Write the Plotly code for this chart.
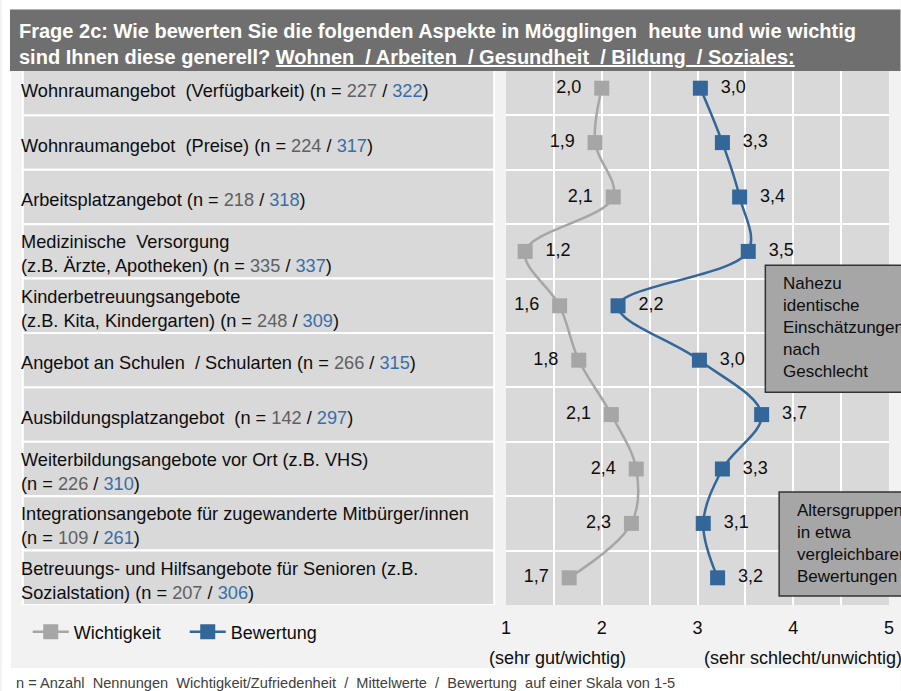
import plotly.graph_objects as go

# ---------------- data ----------------
categories = [
    "Wohnraumangebot (Verfügbarkeit)",
    "Wohnraumangebot (Preise)",
    "Arbeitsplatzangebot",
    "Medizinische Versorgung",
    "Kinderbetreuungsangebote",
    "Angebot an Schulen / Schularten",
    "Ausbildungsplatzangebot",
    "Weiterbildungsangebote vor Ort",
    "Integrationsangebote",
    "Betreuungs- und Hilfsangebote für Senioren",
]
label_main = [
    "Wohnraumangebot  (Verfügbarkeit)",
    "Wohnraumangebot  (Preise)",
    "Arbeitsplatzangebot",
    "Medizinische  Versorgung<br>(z.B. Ärzte, Apotheken)",
    "Kinderbetreuungsangebote<br>(z.B. Kita, Kindergarten)",
    "Angebot an Schulen  / Schularten",
    "Ausbildungsplatzangebot ",
    "Weiterbildungsangebote vor Ort (z.B. VHS)<br>",
    "Integrationsangebote für zugewanderte Mitbürger/innen<br>",
    "Betreuungs- und Hilfsangebote für Senioren (z.B.<br>Sozialstation)",
]
n_wichtigkeit = [227, 224, 218, 335, 248, 266, 142, 226, 109, 207]
n_bewertung = [322, 317, 318, 337, 309, 315, 297, 310, 261, 306]
wichtigkeit = [2.00, 1.93, 2.12, 1.20, 1.56, 1.76, 2.10, 2.36, 2.31, 1.66]
bewertung = [3.03, 3.26, 3.44, 3.53, 2.17, 3.02, 3.67, 3.26, 3.06, 3.21]
wichtigkeit_textpos = ["middle left", "middle left", "middle left", "middle right", "middle left",
                       "middle left", "middle left", "middle left", "middle left", "middle left"]
x_ticks = [1, 2, 3, 4, 5]
x_tick_labels = ["1", "2", "3", "4", "5"]
series_names = ["Wichtigkeit", "Bewertung"]

title_line1 = "Frage 2c: Wie bewerten Sie die folgenden Aspekte in Mögglingen  heute und wie wichtig"
title_line2a = "sind Ihnen diese generell? "
title_line2b = "Wohnen  / Arbeiten  / Gesundheit  / Bildung  / Soziales:"
box1_text = "Nahezu<br>identische<br>Einschätzungen<br>nach<br>Geschlecht"
box2_text = "Altersgruppen<br>in etwa<br>vergleichbaren<br>Bewertungen"
axis_left_text = "(sehr gut/wichtig)"
axis_right_text = "(sehr schlecht/unwichtig)"
footnote = "n = Anzahl  Nennungen  Wichtigkeit/Zufriedenheit  /  Mittelwerte  /  Bewertung  auf einer Skala von 1-5"

# ---------------- styling ----------------
GRAY = "#a6a6a6"
BLUE = "#336699"
N_GRAY = "#606060"
N_BLUE = "#3a6ea8"
TXT = "#0d0d0d"
FONT = "Liberation Sans, Arial, sans-serif"
NB = "\u00a0"

W, H = 901, 691
PL, PR, PT, PB = 506, 894.4, 60.5, 605  # plot area in px


def X(px):
    return (px - PL) / (PR - PL)


def Y(py):
    return (PB - py) / (PB - PT)


def keep_spaces(s):
    return s.replace("  ", NB + " ")


labels = []
for main, nw, nb in zip(label_main, n_wichtigkeit, n_bewertung):
    sep = "" if main.endswith("<br>") else " "
    labels.append(
        keep_spaces(main) + sep + "(n = "
        + f"<span style='color:{N_GRAY}'>{nw}</span> / "
        + f"<span style='color:{N_BLUE}'>{nb}</span>)"
    )

fig = go.Figure()

# lines + markers
fig.add_trace(go.Scatter(
    x=wichtigkeit, y=categories, mode="lines+markers", name=series_names[0],
    line=dict(color=GRAY, width=2.5, shape="spline", smoothing=1),
    marker=dict(symbol="square", size=15, color=GRAY),
    cliponaxis=False, hoverinfo="skip",
))
fig.add_trace(go.Scatter(
    x=bewertung, y=categories, mode="lines+markers", name=series_names[1],
    line=dict(color=BLUE, width=2.5, shape="spline", smoothing=1),
    marker=dict(symbol="square", size=15, color=BLUE),
    cliponaxis=False, hoverinfo="skip",
))

# value labels
def tmpl(pos):
    return ("%{x:.1f}" + NB + NB) if "left" in pos else (NB + NB + "%{x:.1f}")

fig.add_trace(go.Scatter(
    x=wichtigkeit, y=categories, mode="markers+text", showlegend=False,
    marker=dict(symbol="square", size=15, color="rgba(0,0,0,0)"),
    texttemplate=[tmpl(p) for p in wichtigkeit_textpos], textposition=wichtigkeit_textpos,
    textfont=dict(size=18, color=TXT, family=FONT), cliponaxis=False, hoverinfo="skip",
))
fig.add_trace(go.Scatter(
    x=bewertung, y=categories, mode="markers+text", showlegend=False,
    marker=dict(symbol="square", size=15, color="rgba(0,0,0,0)"),
    texttemplate=[tmpl("middle right")] * len(bewertung), textposition="middle right",
    textfont=dict(size=18, color=TXT, family=FONT), cliponaxis=False, hoverinfo="skip",
))

shapes = []
# white regions outside the grey panel
shapes.append(dict(type="rect", xref="paper", yref="paper", x0=X(-5), x1=X(W + 5), y0=Y(9), y1=Y(-5),
                   fillcolor="white", line=dict(width=0), layer="below"))
shapes.append(dict(type="rect", xref="paper", yref="paper", x0=X(-5), x1=X(4), y0=Y(H + 5), y1=Y(-5),
                   fillcolor="white", line=dict(width=0), layer="below"))
shapes.append(dict(type="rect", xref="paper", yref="paper", x0=X(-5), x1=X(W + 5), y0=Y(H + 5), y1=Y(668),
                   fillcolor="white", line=dict(width=0), layer="below"))
# label bands
for i in range(len(categories)):
    shapes.append(dict(type="rect", xref="paper", yref="y", x0=X(16), x1=X(494),
                       y0=i - 0.5, y1=i + 0.5, fillcolor="#d9d9d9",
                       line=dict(color="white", width=2), layer="below"))
# title bar
shapes.append(dict(type="rect", xref="paper", yref="paper", x0=X(3), x1=X(W + 5), y0=Y(70.5), y1=Y(9),
                   fillcolor="#6f6f6f", line=dict(width=0), layer="above"))
# comment boxes
shapes.append(dict(type="rect", xref="paper", yref="paper", x0=X(769), x1=X(W + 20), y0=Y(392), y1=Y(265),
                   fillcolor=GRAY, line=dict(color="#333333", width=1.5), layer="above"))
shapes.append(dict(type="rect", xref="paper", yref="paper", x0=X(783), x1=X(W + 20), y0=Y(596), y1=Y(492),
                   fillcolor=GRAY, line=dict(color="#333333", width=1.5), layer="above"))

annotations = []
for cat, lab in zip(categories, labels):
    annotations.append(dict(xref="paper", yref="y", x=X(12), y=cat, yshift=-3, text=lab, showarrow=False,
                            xanchor="left", yanchor="middle", align="left",
                            font=dict(size=18.2, color=TXT, family=FONT)))
annotations.append(dict(xref="paper", yref="paper", x=X(10), y=Y(43), showarrow=False,
                        xanchor="left", yanchor="middle", align="left",
                        text="<b>" + keep_spaces(title_line1) + "<br>" + title_line2a
                             + "<u>" + keep_spaces(title_line2b) + "</u></b>",
                        font=dict(size=20, color="white", family=FONT)))
annotations.append(dict(xref="paper", yref="paper", x=X(785), y=Y(327.5), showarrow=False,
                        xanchor="left", yanchor="middle", align="left", text=box1_text,
                        font=dict(size=17, color=TXT, family=FONT)))
annotations.append(dict(xref="paper", yref="paper", x=X(799), y=Y(543.5), showarrow=False,
                        xanchor="left", yanchor="middle", align="left", text=box2_text,
                        font=dict(size=17, color=TXT, family=FONT)))
annotations.append(dict(xref="paper", yref="paper", x=X(487), y=Y(658), showarrow=False,
                        xanchor="left", yanchor="middle", text=axis_left_text,
                        font=dict(size=18, color=TXT, family=FONT)))
annotations.append(dict(xref="paper", yref="paper", x=X(705), y=Y(658), showarrow=False,
                        xanchor="left", yanchor="middle", text=axis_right_text,
                        font=dict(size=18, color=TXT, family=FONT)))
annotations.append(dict(xref="paper", yref="paper", x=X(7), y=Y(683), showarrow=False,
                        xanchor="left", yanchor="middle", text=keep_spaces(footnote),
                        font=dict(size=14.6, color="#404040", family=FONT)))

fig.update_layout(
    width=W, height=H,
    margin=dict(l=PL, r=W - PR, t=PT, b=H - PB, pad=0),
    paper_bgcolor="#f2f2f2", plot_bgcolor="#d9d9d9",
    font=dict(family=FONT, size=18, color=TXT),
    separators=",.",
    shapes=shapes, annotations=annotations,
    showlegend=True,
    legend=dict(orientation="h", x=X(21), y=Y(632), xanchor="left", yanchor="middle",
                bgcolor="rgba(0,0,0,0)", font=dict(size=18, color=TXT, family=FONT),
                itemwidth=36, entrywidth=106, itemclick=False, itemdoubleclick=False),
    xaxis=dict(range=[1, 5], tickmode="array", tickvals=x_ticks, ticktext=x_tick_labels,
               showgrid=True, gridcolor="white", gridwidth=1.5, zeroline=False, showline=False,
               ticks="", ticklabelstandoff=10, tickfont=dict(size=18, color=TXT),
               minor=dict(dtick=0.5, showgrid=True, gridcolor="white", gridwidth=1.5), fixedrange=True),
    yaxis=dict(type="category", categoryarray=categories, categoryorder="array",
               range=[len(categories) - 0.5, -0.5], tickson="boundaries",
               showgrid=True, gridcolor="white", gridwidth=1.5, showticklabels=False,
               zeroline=False, showline=False, ticks="", fixedrange=True),
)

fig.write_html(
    "out.html",
    config={"displayModeBar": False},
    post_script="document.body.style.margin='0px';document.body.style.overflow='hidden';",
)
